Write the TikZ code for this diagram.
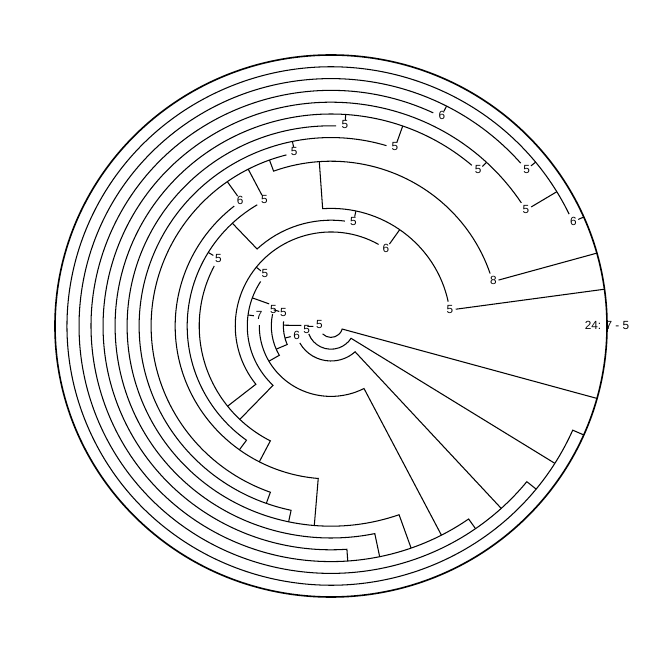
\documentclass[tikz,border=0pt]{standalone}
\usepackage{fontspec}
\setmainfont{Liberation Sans}
\begin{document}
\begin{tikzpicture}[x=1pt,y=1pt,
  lbl/.style={font=\fontsize{11.8}{12}\selectfont, inner sep=0pt},
  ring/.style={line width=1.05pt},
  rootring/.style={line width=1.6pt}]
\useasboundingbox (0,0) rectangle (664,651);
\begin{scope}[shift={(331,325)}, xscale=1.0185]
  % root ring
  \draw[rootring] (0,0) circle[radius=271pt];
  % nodes: level / label-end angle / other-end angle / parent at label end / link at other end
  \foreach \k/\a/\b/\p/\q in {
    1/23.7/336.3/0/0,
    2/39.2/321/1/1,
    3/62.7/305/2/2,
    4/31.2/274/1/3,
    5/47.0/281.7/4/3,
    6/86.1/289.5/5/3,
    7/70.6/258/5/6,
    8/101.6/250.3/7/7,
    9/15.6/110/0/8,
    10/125.2/265.3/8/6,
    11/117.4/234/8/10,
    12/148.6/242.6/11/10,
    13/7.8/94/0/9,
    14/78/133.3/13/11,
    15/55/218.3/13/12,
    16/141.3/226.2/15/12,
    17/172.3/297.4/16/3,
    18/160/210/16/17,
    19/164/203.3/18/18,
    20/195/312.5/19/2,
    21/179/328/19/1,
    22/181/344.5/21/0}{
    \pgfmathsetmacro{\rk}{271-11.8*\k}
    \pgfmathsetmacro{\rpp}{271-11.8*\p}
    \pgfmathsetmacro{\rqq}{271-11.8*\q}
    \pgfmathsetmacro{\sa}{\a+8.5/\rk*57.2958}
    \pgfmathsetmacro{\rt}{\rk+6}
    \draw[ring] (\sa:\rk pt) arc[start angle=\sa, end angle=\b, radius=\rk pt] -- (\b:\rqq pt);
    \draw[ring] (\a:\rt pt) -- (\a:\rpp pt);
  }
  % labels
  \node[lbl] (root) at (0.2:271pt) {24: 7 - 5};
  \node[lbl] (n1) at (23.7:259.9pt) {6};
  \node[lbl] (n2) at (39.2:247.9pt) {5};
  \node[lbl] (n3) at (62.7:237.3pt) {6};
  \node[lbl] (n4) at (31.4:224.2pt) {5};
  \node[lbl] (n5) at (47.2:212.7pt) {5};
  \node[lbl] (n6) at (86.1:201.5pt) {5};
  \node[lbl] (n7) at (70.7:190pt) {5};
  \node[lbl] (n8) at (101.7:178pt) {5};
  \node[lbl] (n9) at (16.1:165.9pt) {8};
  \node[lbl] (n10) at (125.3:154.4pt) {6};
  \node[lbl] (n11) at (117.3:142.6pt) {5};
  \node[lbl] (n12) at (148.5:129.7pt) {5};
  \node[lbl] (n13) at (8.1:118pt) {5};
  \node[lbl] (n14) at (78.1:106.6pt) {5};
  \node[lbl] (n15) at (55.2:94.6pt) {6};
  \node[lbl] (n16) at (140.9:83.5pt) {5};
  \node[lbl] (n17) at (171.7:71.4pt) {7};
  \node[lbl] (n18) at (164.2:58.9pt) {5};
  \node[lbl] (n19) at (164.1:48.7pt) {5};
  \node[lbl] (n20) at (195:34.9pt) {6};
  \node[lbl] (n21) at (188:24.1pt) {5};
  \node[lbl] (n22) at (175:11.5pt) {5};
\end{scope}
\end{tikzpicture}
\end{document}
